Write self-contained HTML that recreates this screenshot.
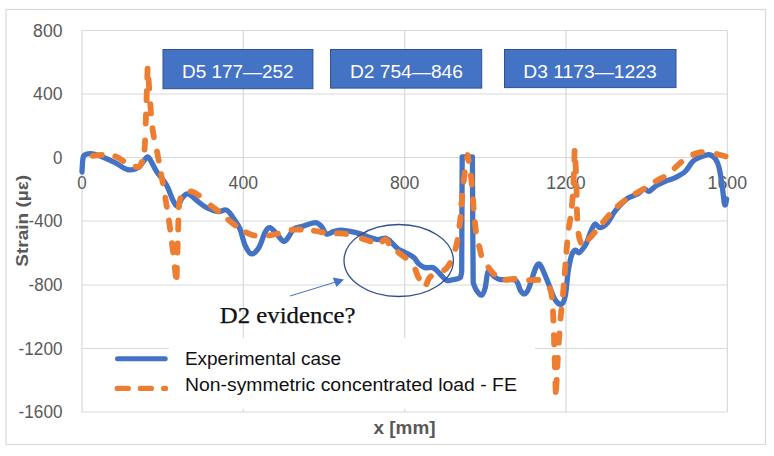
<!DOCTYPE html>
<html><head><meta charset="utf-8"><title>Strain chart</title>
<style>html,body{margin:0;padding:0;background:#fff;}body{width:774px;height:456px;overflow:hidden;font-family:"Liberation Sans",sans-serif;}</style>
</head><body>
<svg width="774" height="456" viewBox="0 0 774 456" style="display:block">
<rect width="774" height="456" fill="#fff"/>
<rect x="6" y="9.5" width="759.5" height="435" fill="#fff" stroke="#D9D9D9" stroke-width="1.2"/>
<path d="M82 30.5H727.3 M82 94H727.3 M82 157.5H727.3 M82 221H727.3 M82 285H727.3 M82 348.5H727.3 M82 412H727.3 M82 30.5V412 M243.3 30.5V412 M404.7 30.5V412 M566 30.5V412 M727.3 30.5V412" stroke="#D9D9D9" stroke-width="1.2" fill="none"/>
<rect x="169" y="338" width="366" height="71" fill="#fff"/>
<text x="33.1" y="36.7" text-anchor="start" font-family="'Liberation Sans', sans-serif" font-size="17.5" font-weight="normal" fill="#595959" textLength="29.4" lengthAdjust="spacingAndGlyphs" >800</text>
<text x="33.1" y="100.2" text-anchor="start" font-family="'Liberation Sans', sans-serif" font-size="17.5" font-weight="normal" fill="#595959" textLength="29.4" lengthAdjust="spacingAndGlyphs" >400</text>
<text x="53.1" y="163.7" text-anchor="start" font-family="'Liberation Sans', sans-serif" font-size="17.5" font-weight="normal" fill="#595959" textLength="9.4" lengthAdjust="spacingAndGlyphs" >0</text>
<text x="28.6" y="227.2" text-anchor="start" font-family="'Liberation Sans', sans-serif" font-size="17.5" font-weight="normal" fill="#595959" textLength="33.9" lengthAdjust="spacingAndGlyphs" >-400</text>
<text x="28.6" y="291.2" text-anchor="start" font-family="'Liberation Sans', sans-serif" font-size="17.5" font-weight="normal" fill="#595959" textLength="33.9" lengthAdjust="spacingAndGlyphs" >-800</text>
<text x="18.6" y="354.7" text-anchor="start" font-family="'Liberation Sans', sans-serif" font-size="17.5" font-weight="normal" fill="#595959" textLength="43.9" lengthAdjust="spacingAndGlyphs" >-1200</text>
<text x="18.6" y="418.2" text-anchor="start" font-family="'Liberation Sans', sans-serif" font-size="17.5" font-weight="normal" fill="#595959" textLength="43.9" lengthAdjust="spacingAndGlyphs" >-1600</text>
<text x="77.3" y="189.3" text-anchor="start" font-family="'Liberation Sans', sans-serif" font-size="17.5" font-weight="normal" fill="#595959" textLength="9.4" lengthAdjust="spacingAndGlyphs" >0</text>
<text x="228.60000000000002" y="189.3" text-anchor="start" font-family="'Liberation Sans', sans-serif" font-size="17.5" font-weight="normal" fill="#595959" textLength="29.4" lengthAdjust="spacingAndGlyphs" >400</text>
<text x="390.0" y="189.3" text-anchor="start" font-family="'Liberation Sans', sans-serif" font-size="17.5" font-weight="normal" fill="#595959" textLength="29.4" lengthAdjust="spacingAndGlyphs" >800</text>
<text x="546.3" y="189.3" text-anchor="start" font-family="'Liberation Sans', sans-serif" font-size="17.5" font-weight="normal" fill="#595959" textLength="39.4" lengthAdjust="spacingAndGlyphs" >1200</text>
<text x="707.5999999999999" y="189.3" text-anchor="start" font-family="'Liberation Sans', sans-serif" font-size="17.5" font-weight="normal" fill="#595959" textLength="39.4" lengthAdjust="spacingAndGlyphs" >1600</text>
<path d="M82.0 172.0 C82.1 170.0 82.4 162.8 82.8 160.0 C83.2 157.2 82.9 156.0 84.5 155.0 C86.1 154.0 89.5 153.5 92.5 153.8 C95.5 154.1 98.8 155.5 102.6 157.0 C106.3 158.5 110.8 160.5 115.0 162.6 C119.2 164.7 123.8 168.7 127.6 169.6 C131.4 170.5 135.1 169.3 137.7 168.0 C140.3 166.7 141.3 163.8 143.0 162.0 C144.7 160.2 146.2 156.8 147.7 157.0 C149.2 157.2 150.5 160.6 152.0 163.0 C153.5 165.4 154.1 167.7 156.5 171.4 C158.9 175.1 163.8 180.2 166.5 185.0 C169.2 189.8 170.9 196.4 172.8 200.0 C174.7 203.6 176.4 206.7 177.8 206.5 C179.2 206.3 179.8 201.1 181.5 199.0 C183.2 196.9 185.1 193.6 187.8 194.0 C190.5 194.4 194.7 199.1 197.8 201.4 C200.9 203.7 203.2 206.0 206.6 207.7 C209.9 209.4 214.6 211.1 217.9 211.5 C221.2 211.9 223.9 208.9 226.6 210.2 C229.3 211.4 231.8 215.9 234.0 219.0 C236.2 222.1 238.2 224.6 240.0 229.0 C241.8 233.4 243.1 241.0 245.0 245.2 C246.9 249.3 249.0 253.5 251.3 253.9 C253.6 254.3 256.5 251.2 258.8 247.7 C261.1 244.1 263.1 235.9 265.0 232.6 C266.9 229.2 267.9 227.2 270.0 227.6 C272.1 228.0 275.3 232.8 277.6 235.1 C279.9 237.4 282.0 241.2 283.9 241.4 C285.8 241.6 287.2 238.5 288.9 236.4 C290.6 234.3 291.6 230.6 293.9 228.9 C296.2 227.2 299.1 227.5 302.7 226.4 C306.2 225.3 312.1 222.6 315.2 222.6 C318.3 222.6 319.6 224.5 321.5 226.4 C323.4 228.3 324.4 233.1 326.5 233.9 C328.6 234.7 331.7 232.0 334.0 231.4 C336.3 230.8 337.6 230.1 340.3 230.1 C343.0 230.1 347.0 230.8 350.3 231.4 C353.6 232.0 357.0 232.9 360.3 233.9 C363.6 234.9 367.4 236.7 370.3 237.6 C373.2 238.5 375.3 239.5 377.8 239.6 C380.3 239.7 383.3 237.8 385.4 238.1 C387.5 238.4 388.3 239.6 390.4 241.4 C392.5 243.2 395.4 247.0 397.9 248.9 C400.4 250.8 402.8 251.2 405.4 252.7 C408.0 254.1 411.6 255.7 413.8 257.6 C416.0 259.5 416.9 262.2 418.8 263.9 C420.7 265.6 422.7 267.0 425.0 267.6 C427.3 268.2 430.5 267.0 432.6 267.6 C434.7 268.2 435.3 269.3 437.6 271.4 C439.9 273.5 444.0 278.8 446.4 280.2 C448.8 281.6 450.1 280.0 452.0 279.8 C453.9 279.6 456.1 279.2 457.5 278.8 C458.9 278.4 460.1 277.5 460.6 277.2 L461.7 272.0 L461.9 220.0 L462.2 157.0 L472.4 157.0 L472.7 220.0 L473.2 282.7 C473.7 283.9 475.0 288.1 476.4 290.2 C477.8 292.3 480.0 295.6 481.5 295.2 C483.0 294.8 484.1 291.7 485.2 287.7 C486.3 283.7 486.7 273.3 488.2 271.4 C489.7 269.5 492.0 275.0 494.0 276.4 C496.0 277.8 496.8 279.0 500.3 279.6 C503.9 280.2 512.0 278.4 515.3 280.2 C518.6 282.0 518.8 287.9 520.3 290.2 C521.8 292.5 523.1 294.3 524.6 293.9 C526.1 293.5 527.2 291.9 529.0 287.7 C530.8 283.5 533.6 272.9 535.3 268.9 C537.0 264.9 537.8 263.7 539.1 263.9 C540.4 264.1 541.2 266.6 542.9 270.1 C544.6 273.7 547.0 280.2 549.1 285.2 C551.2 290.2 553.3 297.1 555.4 300.2 C557.5 303.3 560.0 304.8 561.7 304.0 C563.4 303.2 564.3 300.8 565.4 295.2 C566.5 289.6 567.3 276.8 568.4 270.1 C569.5 263.4 570.5 258.4 571.7 255.1 C572.9 251.8 574.1 250.5 575.4 250.1 C576.6 249.7 577.5 253.4 579.2 252.6 C580.9 251.8 584.1 247.1 585.5 245.1 C586.9 243.1 586.6 242.8 587.6 240.3 C588.6 237.8 590.0 233.0 591.3 230.3 C592.5 227.6 593.6 224.4 595.1 224.0 C596.6 223.6 598.0 227.9 600.1 227.7 C602.2 227.5 605.3 225.2 607.6 222.7 C609.9 220.2 611.8 215.6 613.9 212.7 C616.0 209.8 617.9 207.6 620.2 205.2 C622.5 202.8 624.8 200.1 627.7 198.2 C630.6 196.3 635.0 195.4 637.7 193.9 C640.4 192.4 642.1 189.3 644.0 188.9 C645.9 188.5 647.1 191.8 649.0 191.4 C650.9 191.0 652.5 188.1 655.2 186.4 C657.9 184.7 661.9 182.9 665.3 181.4 C668.6 179.9 672.0 179.3 675.3 177.6 C678.6 175.9 682.4 174.1 685.3 171.4 C688.2 168.7 690.3 163.7 692.8 161.3 C695.3 158.9 697.7 158.2 700.4 157.1 C703.1 156.0 706.6 154.3 709.1 154.6 C711.6 154.9 713.7 156.6 715.4 158.8 C717.1 161.0 717.9 162.8 719.1 167.6 C720.3 172.4 721.5 181.8 722.4 187.6 C723.2 193.4 723.7 199.9 724.2 202.7 C724.7 205.5 725.2 205.1 725.6 204.5 C726.0 203.9 726.4 199.9 726.6 199.0" stroke="#4472C4" stroke-width="5.3" fill="none" stroke-linecap="round" stroke-linejoin="round"/>
<path d="M92.8 155.8 L93.0 155.8 L94.9 155.6 L96.9 155.4 L98.9 155.2 L100.8 155.0 L101.9 155.0 M115.3 156.4 L115.5 156.5 L117.0 157.1 L118.4 157.8 L119.8 158.7 L121.2 159.6 L122.6 160.5 L123.3 160.9 M135.7 166.7 L135.8 166.7 L137.0 167.0 L138.0 167.0 L138.8 166.7 L139.5 166.3 L140.1 165.7 L140.6 165.0 L141.0 164.2 L141.4 163.3 L141.7 162.5 L142.1 161.8 M144.5 149.5 L144.6 149.5 L144.7 147.5 L144.8 145.2 L145.0 142.6 L145.1 140.3 M145.7 123.5 L145.7 123.1 L145.9 118.1 L146.0 114.3 M146.5 100.2 L146.5 100.0 L146.7 95.4 L146.8 91.0 M147.3 77.8 L147.3 77.6 L147.4 73.3 L147.6 69.7 L147.6 68.6 M148.6 79.3 L148.6 79.5 L148.9 84.4 L149.2 88.5 M150.3 104.2 L150.4 105.3 L150.7 109.2 L151.0 113.0 L151.0 113.4 M152.5 128.2 L152.5 128.8 L153.0 132.3 L153.6 135.5 L153.9 137.3 M157.0 151.5 L157.1 151.8 L157.7 155.0 L158.3 158.4 L158.7 160.6 M161.2 174.2 L161.3 174.9 L161.9 178.3 L162.5 181.5 L162.8 183.3 M165.3 197.7 L165.4 198.4 L165.9 201.2 L166.3 204.0 L166.8 206.8 M168.9 220.5 L169.0 220.9 L169.4 224.0 L169.9 227.1 L170.2 229.6 M172.0 243.2 L172.0 243.4 L172.3 246.0 L172.7 248.9 L173.1 252.3 M174.8 267.2 L174.8 267.5 L175.3 272.1 L175.8 276.3 M176.7 277.0 L176.7 276.5 L176.8 272.4 L176.9 267.8 M177.4 252.5 L177.5 251.2 L177.6 247.6 L177.7 244.2 L177.7 243.3 M178.2 229.6 L178.2 229.6 L178.2 226.8 L178.3 224.1 L178.4 221.6 L178.4 220.4 M178.8 207.3 L178.9 207.1 L179.1 205.4 L179.2 203.8 L179.5 202.2 L179.7 200.8 L180.1 199.5 L180.5 198.2 L180.5 198.2 M190.7 191.4 L191.1 191.5 L192.3 191.7 L193.5 192.2 L194.8 192.8 L196.1 193.5 L197.3 194.4 L198.6 195.2 L198.9 195.4 M210.9 205.6 L211.2 205.9 L212.5 206.8 L213.7 207.7 L215.0 208.7 L216.2 209.5 L217.5 210.5 L218.3 211.1 M228.2 219.7 L228.6 220.0 L229.9 221.1 L231.3 222.3 L232.8 223.4 L234.3 224.6 L235.4 225.5 M246.1 232.4 L246.1 232.4 L247.7 233.2 L249.2 233.8 L250.8 234.4 L252.4 234.9 L254.0 235.4 L254.7 235.5 M268.9 235.4 L269.2 235.4 L270.8 235.2 L272.4 234.9 L274.0 234.5 L275.6 234.2 L277.2 233.8 L277.9 233.6 M291.6 229.9 L292.1 229.9 L293.6 229.7 L295.2 229.6 L296.8 229.6 L298.4 229.5 L300.0 229.5 L300.8 229.6 M313.9 230.7 L314.2 230.8 L315.7 231.0 L317.2 231.2 L318.7 231.5 L320.2 231.8 L321.6 232.1 L323.0 232.4 M336.9 233.4 L337.1 233.4 L339.4 233.4 L341.7 233.5 L343.9 233.7 L346.0 234.0 L346.1 234.0 M361.9 238.6 L362.2 238.7 L364.1 239.3 L366.1 239.9 L368.0 240.6 L369.8 241.2 L370.6 241.4 M382.3 241.5 L382.5 241.3 L383.2 240.7 L383.9 240.1 L384.6 239.6 L385.3 239.4 L385.9 239.5 L386.4 239.8 L386.9 240.3 L387.4 241.0 L387.9 241.8 L388.3 242.7 L388.7 243.3 M398.2 252.2 L398.6 252.6 L399.9 253.6 L401.2 254.6 L402.5 255.6 L403.7 256.5 L404.8 257.3 L405.5 257.8 M415.4 269.6 L415.5 269.7 L416.0 271.1 L416.4 272.5 L416.9 273.8 L417.4 275.1 L417.8 276.2 L418.3 277.1 L418.8 278.0 L418.9 278.1 M426.4 284.2 L426.5 284.0 L427.0 283.0 L427.4 281.8 L427.9 280.6 L428.4 279.5 L428.9 278.5 L429.4 277.8 L429.9 277.2 L430.5 276.6 L430.9 276.3 M444.2 270.1 L444.4 270.0 L445.6 269.1 L446.7 268.0 L447.8 266.7 L448.9 265.1 L449.9 263.2 L450.0 263.1 M455.4 248.9 L455.4 248.9 L456.2 246.0 L456.9 243.2 L457.5 240.0 L457.5 240.0 M459.5 226.0 L459.5 225.7 L459.9 222.7 L460.2 220.0 L460.5 217.8 L460.5 216.9 M461.4 204.7 L461.5 204.0 L461.8 200.4 L462.2 196.4 L462.3 195.6 M463.7 181.5 L463.7 181.5 L464.1 177.3 L464.6 173.7 L464.7 172.4 M467.1 158.2 L467.2 157.8 L467.5 156.3 L467.7 155.0 L468.0 156.9 L468.4 159.3 L468.6 160.9 M470.9 175.5 L471.0 176.3 L471.4 180.0 L471.8 183.8 L471.9 184.6 M473.0 199.4 L473.0 199.4 L473.3 203.7 L473.6 207.7 L473.7 208.6 M474.9 222.2 L474.9 222.5 L475.2 225.4 L475.5 228.2 L475.8 230.8 L475.9 231.4 M479.1 246.1 L479.2 246.2 L479.6 248.0 L480.0 250.0 L480.5 252.1 L481.0 254.2 L481.2 255.1 M488.4 267.3 L488.5 267.4 L489.3 268.5 L490.2 269.7 L491.1 270.9 L492.1 272.0 L493.1 273.2 L494.1 274.2 L494.3 274.3 M505.5 279.6 L505.7 279.7 L506.9 279.8 L508.1 279.7 L509.3 279.6 L510.6 279.4 L511.8 279.2 L513.1 279.0 L514.4 278.9 L514.7 278.9 M529.1 280.2 L529.4 280.2 L531.1 280.2 L532.7 280.1 L534.4 280.0 L536.0 279.9 L537.6 279.9 L538.3 279.9 M549.8 288.3 L550.0 288.6 L550.4 289.7 L550.8 291.0 L551.1 292.6 L551.5 294.5 L551.8 296.7 L551.9 297.2 M553.0 311.3 L553.0 311.8 L553.2 315.4 L553.3 319.1 L553.4 320.5 M553.9 335.2 L554.0 336.6 L554.1 341.1 L554.2 344.4 M554.6 357.9 L554.6 358.4 L554.8 363.9 L554.9 367.1 M555.4 382.8 L555.4 383.7 L555.6 388.9 L555.7 392.0 M556.2 389.0 L556.2 388.9 L556.5 383.7 L556.7 379.8 M557.3 367.0 L557.4 365.9 L557.7 360.1 L557.8 357.8 M558.8 342.7 L558.8 342.6 L559.1 338.1 L559.4 333.7 L559.4 333.5 M560.5 318.7 L560.6 317.9 L560.9 314.5 L561.2 311.4 L561.4 309.5 M563.0 294.5 L563.0 294.0 L563.3 290.5 L563.6 286.8 L563.7 285.4 M564.7 273.7 L564.8 272.7 L565.1 268.9 L565.4 265.1 L565.4 264.5 M566.5 251.7 L566.5 250.6 L566.9 246.6 L567.2 242.8 L567.2 242.5 M568.8 227.8 L568.9 227.3 L569.2 225.4 L569.6 223.6 L569.9 221.6 L570.2 219.4 L570.3 218.7 M571.9 205.9 L571.9 205.9 L572.2 202.7 L572.5 199.3 L572.7 196.7 M573.5 183.1 L573.5 182.0 L573.8 175.7 L573.8 173.9 M574.3 160.0 L574.4 159.0 L574.5 153.8 L574.6 150.8 M575.5 162.5 L575.5 163.9 L575.8 168.4 L575.9 171.6 M576.5 185.7 L576.5 187.0 L576.6 191.2 L576.6 194.9 M576.9 209.4 L576.9 210.3 L577.1 213.8 L577.2 217.2 L577.3 218.6 M578.5 233.7 L578.6 233.9 L578.9 235.9 L579.3 237.7 L579.7 239.3 L580.1 240.7 L580.5 241.8 L580.9 242.6 M588.6 239.3 L588.8 239.1 L590.0 237.8 L591.4 236.3 L592.9 234.5 L594.6 232.5 L594.7 232.4 M603.1 222.1 L603.4 221.8 L604.5 220.5 L605.4 219.4 L606.2 218.4 L607.0 217.4 L607.9 216.4 L608.8 215.5 L609.1 215.1 M617.8 206.1 L617.9 206.0 L619.3 204.8 L620.7 203.6 L622.1 202.4 L623.7 201.3 L624.9 200.4 M635.7 193.4 L635.8 193.3 L637.4 192.5 L639.0 191.6 L640.5 190.8 L642.1 189.9 L643.6 189.0 L643.8 188.9 M655.6 181.4 L655.8 181.3 L657.2 180.4 L658.6 179.6 L660.0 178.9 L661.2 178.2 L662.5 177.6 L663.7 177.0 L663.7 177.0 M674.6 168.3 L674.7 168.2 L675.9 166.9 L677.1 165.8 L678.2 164.8 L679.2 163.8 L680.2 163.0 L681.1 162.1 L681.3 162.0 M693.1 154.5 L693.2 154.5 L694.3 154.0 L695.5 153.6 L696.7 153.2 L698.0 152.8 L699.3 152.5 L700.6 152.2 L701.9 152.1 M716.7 154.1 L717.0 154.2 L718.8 154.6 L720.6 155.0 L722.4 155.5 L724.1 156.0 L725.6 156.4" stroke="#ED7D31" stroke-width="5.8" fill="none" stroke-linecap="round" stroke-linejoin="round"/>
<rect x="163" y="49.5" width="149.9" height="39.2" fill="#4472C4" stroke="#2F528F" stroke-width="1"/>
<text x="182" y="77.9" text-anchor="start" font-family="'Liberation Sans', sans-serif" font-size="18.6" font-weight="normal" fill="#fff" textLength="111.6" lengthAdjust="spacingAndGlyphs" >D5 177—252</text>
<rect x="330.5" y="49.5" width="151.2" height="38.6" fill="#4472C4" stroke="#2F528F" stroke-width="1"/>
<text x="350" y="77.9" text-anchor="start" font-family="'Liberation Sans', sans-serif" font-size="18.6" font-weight="normal" fill="#fff" textLength="112.9" lengthAdjust="spacingAndGlyphs" >D2 754—846</text>
<rect x="504.5" y="49.5" width="171.5" height="38.1" fill="#4472C4" stroke="#2F528F" stroke-width="1"/>
<text x="523.3" y="77.9" text-anchor="start" font-family="'Liberation Sans', sans-serif" font-size="18.6" font-weight="normal" fill="#fff" textLength="133.4" lengthAdjust="spacingAndGlyphs" >D3 1173—1223</text>
<ellipse cx="398.7" cy="260.5" rx="54.7" ry="36" fill="none" stroke="#2F4F8F" stroke-width="1.3"/>
<path d="M290 296 L338 281.3" stroke="#4472C4" stroke-width="1" fill="none"/>
<path d="M344 279.4 L332.7 277.6 L336.5 287.1 Z" fill="#4472C4"/>
<text x="219.8" y="322.5" text-anchor="start" font-family="'Liberation Serif', sans-serif" font-size="24" font-weight="normal" fill="#111" textLength="135.6" lengthAdjust="spacingAndGlyphs" stroke="#111" stroke-width="0.25">D2 evidence?</text>
<path d="M117.5 358.8H165.2" stroke="#4472C4" stroke-width="5" stroke-linecap="round"/>
<path d="M117.3 388.4H128.2 M140.4 388.4H151.3 M163.7 388.4H165.5" stroke="#ED7D31" stroke-width="5.4" stroke-linecap="round"/>
<text x="184.9" y="365.1" text-anchor="start" font-family="'Liberation Sans', sans-serif" font-size="18.3" font-weight="normal" fill="#111" textLength="156.2" lengthAdjust="spacingAndGlyphs" >Experimental case</text>
<text x="184.9" y="391.4" text-anchor="start" font-family="'Liberation Sans', sans-serif" font-size="18.3" font-weight="normal" fill="#111" textLength="332" lengthAdjust="spacingAndGlyphs" >Non-symmetric concentrated load - FE</text>
<text x="404.5" y="434.4" text-anchor="middle" font-family="'Liberation Sans', sans-serif" font-size="18" font-weight="bold" fill="#595959" textLength="62" lengthAdjust="spacingAndGlyphs" >x [mm]</text>
<g transform="translate(28.2 220.8) rotate(-90)"><text x="0" y="0" text-anchor="middle" font-family="'Liberation Sans', sans-serif" font-size="16.3" font-weight="bold" fill="#595959" textLength="92" lengthAdjust="spacingAndGlyphs" >Strain (µε)</text></g>
</svg>
</body></html>
